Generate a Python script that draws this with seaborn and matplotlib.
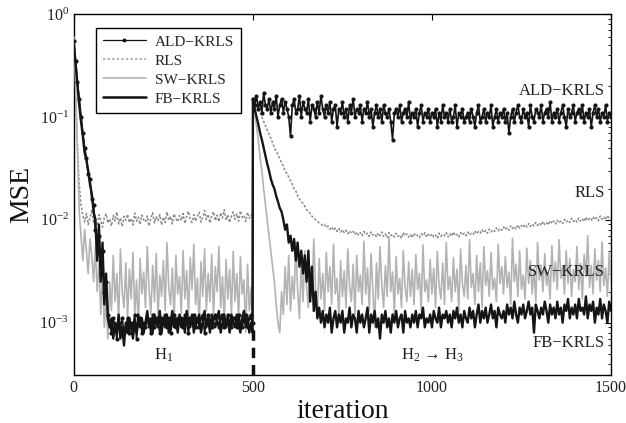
import numpy as np
import pandas as pd
import matplotlib
matplotlib.use("Agg")
import matplotlib.pyplot as plt
import seaborn as sns
from matplotlib.lines import Line2D

# iterations: 0..495 step 5, 499, 500..1500 step 5
iters = np.concatenate([np.arange(0, 500, 5), [499], np.arange(500, 1501, 5)])

fb_h1 = [0.50, 0.32, 0.20, 0.13, 0.09, 0.065, 0.045, 0.038, 0.030, 0.022,
         0.018, 0.012, 0.010, 0.004, 0.009, 0.0025, 0.006, 0.0015, 0.003, 0.0011,
         0.0009, 0.0011, 0.0007, 0.0010, 0.0008, 0.0012, 0.0007, 0.0009, 0.0006, 0.0010,
         0.0008, 0.0011, 0.0009, 0.0007, 0.0010, 0.0008, 0.0012, 0.0009, 0.0011, 0.0008,
         0.0010, 0.0013, 0.0009, 0.0011, 0.0008, 0.0012, 0.0010, 0.0009, 0.0013, 0.0008,
         0.0011, 0.0009, 0.0012, 0.0008, 0.0010, 0.0013, 0.0009, 0.0011, 0.0008, 0.0012,
         0.0009, 0.0011, 0.0008, 0.0013, 0.0010, 0.0009, 0.0012, 0.0008, 0.0011, 0.0010,
         0.0012, 0.0008, 0.0010, 0.0013, 0.0009, 0.0011, 0.0008, 0.0012, 0.0010, 0.0009,
         0.0011, 0.0013, 0.0008, 0.0010, 0.0012, 0.0009, 0.0011, 0.0008, 0.0012, 0.0010,
         0.0009, 0.0012, 0.0010, 0.0008, 0.0011, 0.0013, 0.0009, 0.0011, 0.0008, 0.0010,
         0.0008]
fb_h23 = [0.15, 0.12, 0.10, 0.085, 0.07, 0.06, 0.05, 0.042, 0.035, 0.030,
          0.025, 0.022, 0.020, 0.017, 0.015, 0.013, 0.012, 0.010, 0.008, 0.009,
          0.006, 0.007, 0.005, 0.0065, 0.004, 0.006, 0.0035, 0.005, 0.003, 0.0045,
          0.0025, 0.005, 0.0016, 0.0035, 0.0013, 0.0020, 0.0011, 0.0014, 0.0010, 0.0013,
          0.0009, 0.0012, 0.0010, 0.0014, 0.0008, 0.0011, 0.0013, 0.0009, 0.0012, 0.0010,
          0.0013, 0.0008, 0.0011, 0.0010, 0.0014, 0.0009, 0.0012, 0.0011, 0.0008, 0.0013,
          0.0010, 0.0012, 0.0009, 0.0011, 0.0014, 0.0008, 0.0012, 0.0010, 0.0013, 0.0009,
          0.0011, 0.0007, 0.0012, 0.0010, 0.0013, 0.0009, 0.0011, 0.0008, 0.0012, 0.0010,
          0.0013, 0.0009, 0.0011, 0.0012, 0.0008, 0.0013, 0.0010, 0.0011, 0.0009, 0.0012,
          0.0010, 0.0013, 0.0009, 0.0012, 0.0011, 0.0014, 0.0009, 0.0011, 0.0010, 0.0012,
          0.0009, 0.0013, 0.0011, 0.0010, 0.0014, 0.0009, 0.0012, 0.0011, 0.0013, 0.0010,
          0.0012, 0.0009, 0.0013, 0.0011, 0.0014, 0.0010, 0.0012, 0.0009, 0.0013, 0.0011,
          0.0010, 0.0014, 0.0011, 0.0013, 0.0009, 0.0012, 0.0015, 0.0010, 0.0013, 0.0011,
          0.0014, 0.0010, 0.0012, 0.0015, 0.0011, 0.0013, 0.0009, 0.0014, 0.0012, 0.0011,
          0.0013, 0.0010, 0.0015, 0.0012, 0.0014, 0.0011, 0.0016, 0.0012, 0.0010, 0.0014,
          0.0012, 0.0015, 0.0011, 0.0013, 0.0016, 0.0012, 0.0014, 0.0008, 0.0015, 0.0013,
          0.0011, 0.0014, 0.0012, 0.0016, 0.0013, 0.0010, 0.0015, 0.0012, 0.0014, 0.0011,
          0.0016, 0.0012, 0.0014, 0.0010, 0.0015, 0.0013, 0.0017, 0.0011, 0.0014, 0.0012,
          0.0015, 0.0011, 0.0017, 0.0013, 0.0014, 0.0012, 0.0018, 0.0011, 0.0015, 0.0013,
          0.0016, 0.0010, 0.0014, 0.0012, 0.0017, 0.0011, 0.0015, 0.0013, 0.0010, 0.0016,
          0.0013]

ald_h1 = [0.55, 0.35, 0.22, 0.15, 0.10, 0.07, 0.05, 0.04, 0.028, 0.025,
          0.016, 0.014, 0.008, 0.006, 0.007, 0.003, 0.005, 0.002, 0.0025, 0.0012,
          0.0010, 0.0008, 0.0011, 0.0009, 0.0007, 0.0010, 0.0009, 0.0011, 0.0008, 0.0009,
          0.0011, 0.0008, 0.0010, 0.0009, 0.0012, 0.0007, 0.0010, 0.0011, 0.0008, 0.0010,
          0.0009, 0.0011, 0.0010, 0.0008, 0.0012, 0.0009, 0.0011, 0.0010, 0.0008, 0.0011,
          0.0010, 0.0012, 0.0009, 0.0011, 0.0008, 0.0010, 0.0012, 0.0009, 0.0011, 0.0010,
          0.0011, 0.0009, 0.0012, 0.0010, 0.0008, 0.0011, 0.0010, 0.0012, 0.0009, 0.0011,
          0.0009, 0.0011, 0.0012, 0.0008, 0.0010, 0.0012, 0.0010, 0.0009, 0.0011, 0.0012,
          0.0010, 0.0009, 0.0011, 0.0012, 0.0009, 0.0010, 0.0012, 0.0010, 0.0009, 0.0011,
          0.0011, 0.0009, 0.0012, 0.0010, 0.0009, 0.0011, 0.0012, 0.0009, 0.0011, 0.0012,
          0.0010]
ald_h23 = [0.15, 0.13, 0.16, 0.12, 0.14, 0.11, 0.17, 0.13, 0.12, 0.15,
           0.11, 0.14, 0.12, 0.16, 0.10, 0.13, 0.15, 0.11, 0.14, 0.12,
           0.10, 0.065, 0.13, 0.15, 0.11, 0.12, 0.16, 0.10, 0.14, 0.12,
           0.11, 0.15, 0.09, 0.13, 0.12, 0.10, 0.14, 0.11, 0.16, 0.12,
           0.10, 0.13, 0.11, 0.14, 0.09, 0.12, 0.13, 0.08, 0.12, 0.11,
           0.14, 0.10, 0.12, 0.09, 0.13, 0.11, 0.15, 0.10, 0.12, 0.11,
           0.13, 0.09, 0.12, 0.11, 0.14, 0.10, 0.12, 0.08, 0.11, 0.13,
           0.10, 0.12, 0.09, 0.13, 0.11, 0.10, 0.12, 0.09, 0.06, 0.11,
           0.12, 0.10, 0.13, 0.09, 0.11, 0.12, 0.10, 0.14, 0.09, 0.11,
           0.10, 0.12, 0.08, 0.11, 0.13, 0.09, 0.11, 0.10, 0.12, 0.09,
           0.11, 0.10, 0.12, 0.08, 0.11, 0.09, 0.13, 0.10, 0.11, 0.09,
           0.12, 0.09, 0.10, 0.13, 0.08, 0.11, 0.10, 0.12, 0.09, 0.10,
           0.11, 0.09, 0.12, 0.10, 0.08, 0.11, 0.13, 0.09, 0.10, 0.12,
           0.09, 0.11, 0.10, 0.13, 0.08, 0.10, 0.12, 0.09, 0.11, 0.10,
           0.12, 0.09, 0.11, 0.07, 0.10, 0.12, 0.09, 0.11, 0.13, 0.10,
           0.09, 0.12, 0.10, 0.11, 0.08, 0.13, 0.10, 0.09, 0.12, 0.11,
           0.10, 0.13, 0.09, 0.11, 0.12, 0.10, 0.14, 0.09, 0.11, 0.10,
           0.12, 0.09, 0.11, 0.13, 0.10, 0.08, 0.12, 0.10, 0.11, 0.13,
           0.09, 0.11, 0.12, 0.10, 0.13, 0.09, 0.11, 0.10, 0.12, 0.08,
           0.11, 0.13, 0.10, 0.12, 0.09, 0.11, 0.10, 0.13, 0.09, 0.11,
           0.10]

rls_h1 = [0.45, 0.15, 0.05, 0.022, 0.014, 0.011, 0.0095, 0.0115, 0.009, 0.0105,
          0.0125, 0.0092, 0.0108, 0.0088, 0.0112, 0.0098, 0.0085, 0.0105, 0.0115, 0.0093,
          0.0102, 0.0087, 0.0110, 0.0097, 0.0119, 0.0091, 0.0104, 0.0086, 0.0108, 0.0099,
          0.0113, 0.0094, 0.0103, 0.0089, 0.0116, 0.0097, 0.0106, 0.0090, 0.0111, 0.0100,
          0.0095, 0.0109, 0.0087, 0.0104, 0.0117, 0.0093, 0.0107, 0.0098, 0.0112, 0.0089,
          0.0106, 0.0094, 0.0119, 0.0099, 0.0108, 0.0091, 0.0114, 0.0102, 0.0096, 0.0110,
          0.0098, 0.0115, 0.0092, 0.0107, 0.0121, 0.0101, 0.0094, 0.0112, 0.0097, 0.0109,
          0.0118, 0.0095, 0.0106, 0.0123, 0.0100, 0.0113, 0.0093, 0.0109, 0.0120, 0.0098,
          0.0111, 0.0096, 0.0117, 0.0104, 0.0125, 0.0099, 0.0112, 0.0094, 0.0108, 0.0119,
          0.0101, 0.0114, 0.0097, 0.0122, 0.0105, 0.0110, 0.0096, 0.0118, 0.0103, 0.0112,
          0.0107]
rls_h23 = [0.15, 0.14, 0.13, 0.12, 0.11, 0.10, 0.09, 0.082, 0.075, 0.068,
           0.062, 0.056, 0.050, 0.046, 0.043, 0.039, 0.036, 0.033, 0.030, 0.028,
           0.026, 0.024, 0.022, 0.020, 0.019, 0.017, 0.016, 0.015, 0.0145, 0.0135,
           0.0125, 0.0120, 0.0115, 0.0108, 0.0105, 0.0100, 0.0097, 0.0093, 0.0091, 0.0088,
           0.0090, 0.0084, 0.0087, 0.0081, 0.0085, 0.0079, 0.0083, 0.0077, 0.0082, 0.0076,
           0.0080, 0.0075, 0.0079, 0.0073, 0.0078, 0.0074, 0.0077, 0.0072, 0.0076, 0.0071,
           0.0075, 0.0070, 0.0077, 0.0072, 0.0074, 0.0069, 0.0076, 0.0071, 0.0073, 0.0068,
           0.0074, 0.0070, 0.0076, 0.0069, 0.0073, 0.0067, 0.0075, 0.0070, 0.0072, 0.0068,
           0.0074, 0.0069, 0.0071, 0.0066, 0.0075, 0.0070, 0.0073, 0.0068, 0.0072, 0.0067,
           0.0074, 0.0069, 0.0071, 0.0067, 0.0073, 0.0070, 0.0075, 0.0068, 0.0072, 0.0069,
           0.0073, 0.0068, 0.0071, 0.0066, 0.0074, 0.0069, 0.0072, 0.0070, 0.0075, 0.0068,
           0.0073, 0.0069, 0.0076, 0.0070, 0.0072, 0.0068, 0.0075, 0.0071, 0.0074, 0.0070,
           0.0076, 0.0071, 0.0074, 0.0072, 0.0078, 0.0073, 0.0077, 0.0074, 0.0080, 0.0075,
           0.0079, 0.0074, 0.0081, 0.0076, 0.0080, 0.0077, 0.0083, 0.0078, 0.0082, 0.0079,
           0.0085, 0.0080, 0.0084, 0.0079, 0.0087, 0.0082, 0.0086, 0.0081, 0.0089, 0.0083,
           0.0088, 0.0084, 0.0090, 0.0085, 0.0092, 0.0086, 0.0091, 0.0087, 0.0094, 0.0088,
           0.0093, 0.0088, 0.0096, 0.0090, 0.0094, 0.0089, 0.0098, 0.0092, 0.0097, 0.0091,
           0.0099, 0.0093, 0.0097, 0.0092, 0.0101, 0.0095, 0.0099, 0.0094, 0.0103, 0.0096,
           0.0100, 0.0095, 0.0104, 0.0097, 0.0102, 0.0096, 0.0106, 0.0098, 0.0103, 0.0099,
           0.0107, 0.0100, 0.0105, 0.0098, 0.0109, 0.0101, 0.0106, 0.0100, 0.0110, 0.0103,
           0.0105]

sw_h1 = [0.60, 0.20, 0.05, 0.012, 0.007, 0.004, 0.008, 0.005, 0.003, 0.0065,
         0.0045, 0.0025, 0.0055, 0.0020, 0.0040, 0.0012, 0.0030, 0.0009, 0.0018, 0.0007,
         0.0025, 0.0013, 0.0045, 0.0016, 0.0030, 0.0010, 0.0052, 0.0020, 0.0014, 0.0038,
         0.0011, 0.0033, 0.0017, 0.0048, 0.0012, 0.0026, 0.0009, 0.0042, 0.0019, 0.0031,
         0.0014, 0.0055, 0.0021, 0.0012, 0.0036, 0.0016, 0.0047, 0.0011, 0.0029, 0.0018,
         0.0040, 0.0013, 0.0060, 0.0022, 0.0015, 0.0034, 0.0010, 0.0045, 0.0019, 0.0028,
         0.0012, 0.0050, 0.0017, 0.0032, 0.0011, 0.0043, 0.0021, 0.0058, 0.0015, 0.0027,
         0.0009, 0.0039, 0.0018, 0.0052, 0.0013, 0.0030, 0.0016, 0.0046, 0.0011, 0.0035,
         0.0020, 0.0055, 0.0014, 0.0028, 0.0010, 0.0041, 0.0017, 0.0033, 0.0012, 0.0049,
         0.0016, 0.0030, 0.0011, 0.0044, 0.0019, 0.0026, 0.0008, 0.0037, 0.0013, 0.0022,
         0.0008]
sw_h23 = [0.15, 0.11, 0.08, 0.06, 0.04, 0.03, 0.02, 0.014, 0.010, 0.007,
          0.005, 0.0035, 0.0025, 0.0015, 0.0010, 0.0008, 0.0020, 0.0012, 0.0035, 0.0015,
          0.0045, 0.0013, 0.0028, 0.0017, 0.0060, 0.0020, 0.0011, 0.0038, 0.0016, 0.0050,
          0.0022, 0.0014, 0.0034, 0.0018, 0.0065, 0.0021, 0.0012, 0.0042, 0.0017, 0.0030,
          0.0013, 0.0048, 0.0020, 0.0035, 0.0015, 0.0058, 0.0019, 0.0027, 0.0011, 0.0040,
          0.0018, 0.0032, 0.0014, 0.0052, 0.0022, 0.0016, 0.0037, 0.0012, 0.0045, 0.0020,
          0.0029, 0.0015, 0.0062, 0.0019, 0.0034, 0.0013, 0.0047, 0.0021, 0.0009, 0.0038,
          0.0017, 0.0055, 0.0023, 0.0014, 0.0036, 0.0018, 0.0068, 0.0020, 0.0031, 0.0012,
          0.0044, 0.0019, 0.0027, 0.0014, 0.0050, 0.0022, 0.0016, 0.0039, 0.0018, 0.0033,
          0.0015, 0.0046, 0.0021, 0.0030, 0.0013, 0.0057, 0.0020, 0.0026, 0.0016, 0.0041,
          0.0019, 0.0034, 0.0014, 0.0049, 0.0023, 0.0017, 0.0038, 0.0015, 0.0060, 0.0021,
          0.0028, 0.0016, 0.0043, 0.0020, 0.0033, 0.0013, 0.0052, 0.0024, 0.0018, 0.0036,
          0.0017, 0.0064, 0.0022, 0.0030, 0.0015, 0.0045, 0.0020, 0.0038, 0.0014, 0.0055,
          0.0023, 0.0032, 0.0018, 0.0048, 0.0021, 0.0027, 0.0016, 0.0058, 0.0024, 0.0035,
          0.0019, 0.0044, 0.0022, 0.0031, 0.0015, 0.0066, 0.0025, 0.0037, 0.0018, 0.0050,
          0.0021, 0.0029, 0.0017, 0.0053, 0.0024, 0.0040, 0.0019, 0.0034, 0.0016, 0.0060,
          0.0026, 0.0036, 0.0020, 0.0047, 0.0023, 0.0031, 0.0017, 0.0056, 0.0025, 0.0039,
          0.0021, 0.0064, 0.0027, 0.0035, 0.0019, 0.0050, 0.0024, 0.0042, 0.0018, 0.0033,
          0.0025, 0.0055, 0.0021, 0.0038, 0.0017, 0.0046, 0.0028, 0.0070, 0.0022, 0.0036,
          0.0019, 0.0052, 0.0026, 0.0040, 0.0020, 0.0061, 0.0023, 0.0034, 0.0018, 0.0048,
          0.0024]

series_names = ["ALD\u2212KRLS", "RLS", "SW\u2212KRLS", "FB\u2212KRLS"]
phase_labels = ["H$_1$", "H$_2$ \u2192 H$_3$"]
x_ticks = [0, 500, 1000, 1500]

sns.set_theme(style="white")
plt.rcParams["font.family"] = ["Liberation Serif", "DejaVu Serif"]
plt.rcParams["mathtext.fontset"] = "custom"
plt.rcParams["mathtext.rm"] = "Liberation Serif"
plt.rcParams["mathtext.it"] = "Liberation Serif:italic"

fig = plt.figure(figsize=(6.26, 4.23), dpi=100)
ax = fig.add_axes([0.118, 0.1135, 0.858, 0.8535])

data = {
    "ALD": np.array(ald_h1 + ald_h23),
    "RLS": np.array(rls_h1 + rls_h23),
    "SW": np.array(sw_h1 + sw_h23),
    "FB": np.array(fb_h1 + fb_h23),
}

sns.lineplot(x=iters, y=data["RLS"], ax=ax, color="#8a8a8a", lw=1.1,
             linestyle=(0, (1.6, 1.2)), estimator=None, sort=False, zorder=2)
sns.lineplot(x=iters, y=data["SW"], ax=ax, color="#b3b3b3", lw=1.2,
             estimator=None, sort=False, zorder=3)
sns.lineplot(x=iters, y=data["FB"], ax=ax, color="#151515", lw=1.7,
             estimator=None, sort=False, zorder=4)
sns.lineplot(x=iters, y=data["ALD"], ax=ax, color="#151515", lw=1.2,
             marker="o", markersize=3.0, markeredgewidth=0, estimator=None,
             sort=False, zorder=5)

ax.set_yscale("log")
ax.set_xlim(0, 1500)
ax.set_ylim(3.1e-4, 1.0)
ax.set_xticks(x_ticks)
ax.set_xticklabels([str(v) for v in x_ticks])

ax.axvline(500, ymin=0, ymax=0.13, color="#111111", lw=2.5, linestyle=(0, (3, 2)), zorder=6)

for sp in ax.spines.values():
    sp.set_color("black")
    sp.set_linewidth(1.0)
ax.tick_params(which="both", direction="in", top=True, right=True, colors="black",
               labelsize=11.5, labelcolor="#222222")
ax.tick_params(which="major", length=4, width=0.8)
ax.tick_params(which="minor", length=2, width=0.6)

ax.set_xlabel("iteration", fontsize=20, color="#111111", labelpad=2)
ax.set_ylabel("MSE", fontsize=20, color="#111111", labelpad=4)

# right-side annotations
ann_y = [0.18, 0.018, 0.0031, 0.00063]
for name, yv in zip(series_names, ann_y):
    ax.text(1482, yv, name, ha="right", va="center", fontsize=12, color="#222222")
ax.text(250, 4.8e-4, phase_labels[0], ha="center", va="center", fontsize=12, color="#222222")
ax.text(1000, 4.8e-4, phase_labels[1], ha="center", va="center", fontsize=12, color="#222222")

handles = [
    Line2D([], [], color="#111111", lw=0.9, marker="o", markersize=2.8,
           markeredgewidth=0, markevery=[1]),
    Line2D([], [], color="#9a9a9a", lw=1.1, linestyle=(0, (1.5, 1.5))),
    Line2D([], [], color="#b3b3b3", lw=1.2),
    Line2D([], [], color="#111111", lw=1.8),
]
leg = ax.legend(handles, series_names, loc="upper left", bbox_to_anchor=(0.041, 0.961),
                borderaxespad=0, fontsize=11, frameon=True, fancybox=False,
                edgecolor="black", framealpha=1, handlelength=2.8, borderpad=0.45,
                labelspacing=0.35, handletextpad=0.6)
leg.get_frame().set_linewidth(1.0)

fig.savefig("out.png", dpi=100)
